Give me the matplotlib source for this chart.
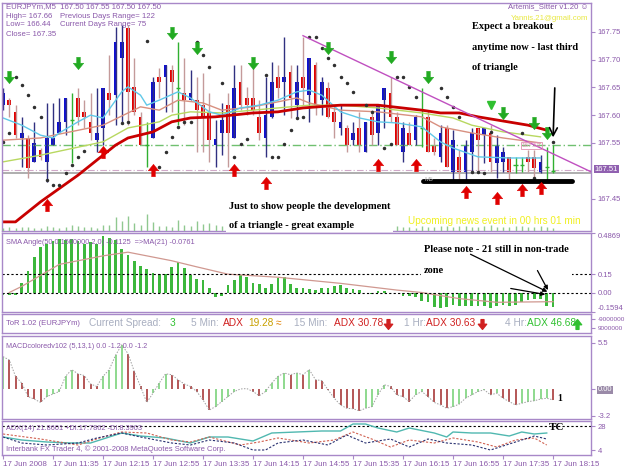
import numpy as np
import matplotlib
matplotlib.use('Agg')
import matplotlib.pyplot as plt
from matplotlib.path import Path
import matplotlib.transforms as mtransforms

plt.rcParams['font.family'] = ['Liberation Sans', 'DejaVu Sans']

# ---------------- data (EURJPYm, M5) ----------------
time_labels = ['17 Jun 2008', '17 Jun 11:35', '17 Jun 12:15', '17 Jun 12:55', '17 Jun 13:35',
               '17 Jun 14:15', '17 Jun 14:55', '17 Jun 15:35', '17 Jun 16:15', '17 Jun 16:55',
               '17 Jun 17:35', '17 Jun 18:15']

opens = [167.618, 167.627, 167.606, 167.559, 167.559, 167.516, 167.537, 167.516, 167.546, 167.568,
         167.588, 167.591, 167.631, 167.606, 167.588, 167.555, 167.577, 167.640, 167.636, 167.703,
         167.757, 167.651, 167.597, 167.546, 167.559, 167.669, 167.669, 167.681, 167.649, 167.640,
         167.627, 167.627, 167.618, 167.606, 167.546, 167.568, 167.618, 167.559, 167.660, 167.631,
         167.631, 167.597, 167.559, 167.597, 167.669, 167.660, 167.678, 167.618, 167.669, 167.636,
         167.690, 167.627, 167.649, 167.606, 167.577, 167.577, 167.555, 167.577, 167.534, 167.597,
         167.568, 167.627, 167.640, 167.597, 167.534, 167.568, 167.555, 167.577, 167.597, 167.546,
         167.525, 167.577, 167.498, 167.525, 167.498, 167.534, 167.577, 167.564, 167.568, 167.514,
         167.516, 167.525, 167.510, 167.510, 167.525, 167.525, 167.496, 167.507, 167.500]
highs = [167.649, 167.631, 167.618, 167.597, 167.564, 167.588, 167.541, 167.622, 167.622, 167.631,
         167.631, 167.640, 167.649, 167.627, 167.640, 167.649, 167.649, 167.708, 167.759, 167.762,
         167.762, 167.703, 167.606, 167.588, 167.669, 167.685, 167.690, 167.690, 167.732, 167.703,
         167.681, 167.669, 167.676, 167.640, 167.591, 167.622, 167.640, 167.690, 167.690, 167.651,
         167.690, 167.627, 167.669, 167.696, 167.690, 167.741, 167.690, 167.690, 167.741, 167.703,
         167.696, 167.669, 167.660, 167.618, 167.618, 167.582, 167.588, 167.606, 167.588, 167.609,
         167.618, 167.649, 167.669, 167.606, 167.588, 167.588, 167.600, 167.649, 167.609, 167.559,
         167.582, 167.582, 167.573, 167.537, 167.555, 167.577, 167.577, 167.577, 167.582, 167.564,
         167.543, 167.525, 167.525, 167.525, 167.537, 167.537, 167.528, 167.543, 167.546]
lows = [167.609, 167.597, 167.559, 167.507, 167.487, 167.516, 167.519, 167.480, 167.546, 167.568,
        167.564, 167.514, 167.582, 167.577, 167.555, 167.534, 167.546, 167.600, 167.582, 167.588,
        167.582, 167.600, 167.546, 167.507, 167.559, 167.631, 167.606, 167.606, 167.582, 167.582,
        167.627, 167.534, 167.534, 167.516, 167.507, 167.528, 167.507, 167.559, 167.609, 167.600,
        167.600, 167.555, 167.525, 167.595, 167.631, 167.600, 167.595, 167.595, 167.618, 167.588,
        167.600, 167.600, 167.595, 167.559, 167.564, 167.534, 167.546, 167.534, 167.534, 167.546,
        167.546, 167.577, 167.588, 167.546, 167.516, 167.546, 167.546, 167.543, 167.534, 167.528,
        167.516, 167.507, 167.483, 167.483, 167.483, 167.496, 167.498, 167.514, 167.498, 167.487,
        167.498, 167.483, 167.496, 167.498, 167.498, 167.487, 167.496, 167.483, 167.496]
closes = [167.640, 167.618, 167.564, 167.568, 167.505, 167.550, 167.525, 167.559, 167.559, 167.588,
          167.631, 167.591, 167.597, 167.597, 167.568, 167.568, 167.649, 167.627, 167.732, 167.732,
          167.642, 167.606, 167.546, 167.546, 167.660, 167.660, 167.690, 167.660, 167.649, 167.627,
          167.640, 167.609, 167.597, 167.555, 167.557, 167.591, 167.568, 167.649, 167.618, 167.618,
          167.609, 167.568, 167.600, 167.660, 167.649, 167.669, 167.631, 167.660, 167.649, 167.703,
          167.618, 167.660, 167.597, 167.588, 167.588, 167.546, 167.568, 167.546, 167.588, 167.564,
          167.618, 167.649, 167.597, 167.546, 167.577, 167.546, 167.597, 167.577, 167.534, 167.534,
          167.568, 167.507, 167.555, 167.498, 167.546, 167.568, 167.555, 167.577, 167.516, 167.546,
          167.534, 167.496, 167.510, 167.510, 167.516, 167.505, 167.516, 167.507, 167.500]
volumes = [30, 40, 30, 35, 40, 30, 25, 45, 35, 30, 40, 60, 45, 35, 40, 30, 55, 60, 140, 100,
           150, 80, 60, 170, 90, 50, 45, 40, 110, 60, 50, 100, 70, 80, 60, 50, 90, 70, 60, 50,
           45, 80, 50, 40, 35, 30, 45, 40, 50, 60, 40, 35, 50, 45, 40, 55, 35, 40, 50, 45,
           40, 35, 45, 50, 40, 35, 30, 45, 40, 35, 50, 45, 40, 50, 45, 40, 35, 45, 55, 40,
           35, 40, 45, 50, 40, 35, 45, 40, 30]

# moving averages (bar index, price)
ma_slow_idx = [0, 2, 6, 12, 16, 18, 20, 24, 27, 30, 34, 40, 44, 48, 54, 60, 67, 70, 73, 76, 84, 87]
ma_slow = [167.408, 167.408, 167.444, 167.492, 167.528, 167.546, 167.559, 167.570, 167.588, 167.595,
           167.597, 167.604, 167.606, 167.613, 167.618, 167.618, 167.609, 167.604, 167.604, 167.597,
           167.582, 167.573]
ma_fast_idx = [0, 3, 6, 8, 9, 12, 14, 16, 19, 20, 22, 23, 25, 28, 30, 33, 35, 38, 41, 44, 47, 49,
               51, 54, 57, 60, 63, 67, 70, 72, 76, 81, 86]
ma_fast = [167.595, 167.582, 167.564, 167.559, 167.568, 167.588, 167.600, 167.595, 167.642, 167.651,
           167.636, 167.618, 167.627, 167.642, 167.631, 167.606, 167.600, 167.613, 167.618, 167.627,
           167.642, 167.645, 167.636, 167.606, 167.595, 167.588, 167.586, 167.579, 167.552, 167.541,
           167.525, 167.523, 167.523]
ma_mid_idx = [0, 6, 16, 22, 25, 28, 32, 35, 40, 44, 47, 49, 54, 60, 67, 70, 75, 80, 86]
ma_mid = [167.555, 167.559, 167.582, 167.615, 167.609, 167.627, 167.622, 167.609, 167.615, 167.624,
          167.631, 167.622, 167.609, 167.606, 167.597, 167.579, 167.568, 167.559, 167.550]
ma_long_idx = [0, 6, 16, 20, 25, 27, 30, 35, 40, 46, 49, 54, 60, 67, 72, 75, 80, 86]
ma_long = [167.516, 167.528, 167.552, 167.577, 167.588, 167.600, 167.606, 167.604, 167.609, 167.615,
           167.618, 167.618, 167.613, 167.604, 167.595, 167.582, 167.570, 167.561]

# parabolic SAR dots
sar_idx = [0, 1, 2, 3, 4, 5, 6, 7, 8, 9, 10, 11, 12, 13, 19, 20, 23, 25, 26, 27, 28, 29, 30, 31,
           32, 33, 35, 37, 38, 39, 42, 43, 44, 45, 46, 47, 48, 49, 50, 51, 52, 53, 54, 55, 56, 58,
           59, 61, 62, 63, 64, 65, 66, 70, 71, 72, 73, 75, 76, 77, 78, 83, 85, 88]
sar_val = [167.552, 167.568, 167.669, 167.654, 167.636, 167.615, 167.597, 167.483, 167.474, 167.474,
           167.496, 167.510, 167.525, 167.536, 167.586, 167.588, 167.733, 167.507, 167.534, 167.561,
           167.579, 167.588, 167.588, 167.732, 167.708, 167.687, 167.658, 167.525, 167.548, 167.557,
           167.672, 167.525, 167.525, 167.548, 167.573, 167.595, 167.597, 167.741, 167.741, 167.721,
           167.703, 167.690, 167.669, 167.658, 167.642, 167.618, 167.606, 167.541, 167.548, 167.669,
           167.669, 167.651, 167.633, 167.649, 167.633, 167.615, 167.597, 167.498, 167.498, 167.496,
           167.570, 167.568, 167.487, 167.552]

# signal arrows
sell_idx = [1, 12, 27, 31, 40, 52, 62, 68, 80, 85, 87]
sell_px = [167.669, 167.694, 167.748, 167.721, 167.694, 167.721, 167.705, 167.669, 167.604, 167.586, 167.568]
buy_idx = [7, 16, 24, 37, 42, 60, 66, 74, 79, 83, 86]
buy_px = [167.438, 167.534, 167.501, 167.501, 167.478, 167.510, 167.510, 167.462, 167.451, 167.465, 167.469]
tri_idx, tri_px = [78], [167.618]

# hand-drawn objects
trend_x, trend_y = [48, 94.1], [167.743, 167.498]
support_x, support_y = [67.2, 91.0], [167.482, 167.482]
bid_price, ask_price, green_level = 167.496, 167.501, 167.547

# SMA angle panel
sma_angle = [-0.02, -0.02, -0.02, 0.08, 0.18, 0.29, 0.37, 0.40, 0.42, 0.44,
             0.43, 0.44, 0.42, 0.40, 0.41, 0.40, 0.46, 0.45, 0.43, 0.36,
             0.31, 0.26, 0.22, 0.19, 0.16, 0.15, 0.15, 0.21, 0.25, 0.20,
             0.14, 0.11, 0.10, 0.04, -0.04, -0.03, 0.06, 0.10, 0.14, 0.13,
             0.08, 0.07, 0.04, 0.07, 0.12, 0.13, 0.07, 0.04, 0.04, 0.03,
             0.02, 0.04, 0.04, 0.05, 0.06, 0.04, 0.03, 0.02, 0.00, -0.01,
             0.01, 0.01, 0.00, 0.00, -0.03, -0.03, -0.04, -0.07, -0.08, -0.12,
             -0.13, -0.12, -0.10, -0.11, -0.11, -0.11, -0.11, -0.11, -0.125, -0.11,
             -0.10, -0.11, -0.10, -0.08, -0.06, -0.05, -0.05, -0.11, -0.12]
sma_ma_idx = [1, 3, 9, 16, 20, 27, 31, 36, 44, 54, 63, 67, 73, 79, 88]
sma_ma = [0.0, 0.05, 0.23, 0.30, 0.33, 0.26, 0.21, 0.15, 0.125, 0.075, 0.02, 0.0, -0.05, -0.08, -0.075]

# MACD histogram
macd = [3.85, 3.45, 1.5, 0.7, -0.9, -1.2, -1.6, -0.9, -0.6, -0.3,
        1.5, 2.3, 1.8, 1.6, 0.6, 0.3, 1.5, 2.3, 4.0, 5.25,
        4.2, 2.1, 0.3, -1.6, -0.5, 0.7, 1.8, 1.7, 1.1, 0.6,
        0.3, -0.3, -1.3, -2.5, -2.1, -1.5, -0.9, -0.3, 0.0, 0.05,
        -0.3, -0.8, -0.3, 0.7, 1.5, 1.9, 1.7, 1.9, 1.7, 2.3,
        1.1, 1.0, -0.1, -1.1, -1.9, -2.3, -2.35, -2.6, -2.3, -2.1,
        -0.7, 0.5, 0.3, -0.7, -0.9, -1.5, -0.7, -0.3, -0.9, -1.6,
        -1.9, -2.3, -2.1, -1.8, -1.1, -0.7, -0.3, -0.1, -0.7, -0.5,
        -1.1, -1.5, -1.9, -1.7, -1.5, -1.4, -1.2, -1.1, -1.3]

# ADX panel
adx_idx = [0, 3, 7, 11, 14, 17, 19, 22, 26, 30, 33, 36, 40, 43, 47, 51, 54, 56, 58, 60,
           63, 65, 69, 71, 72, 75, 78, 81, 83, 85, 87]
adx_vals = [17, 14, 12, 11, 11, 17, 21, 18, 16, 11, 17, 17, 13, 21, 22, 23, 23, 30, 30, 26,
            22, 26, 21, 17, 22, 21, 21, 18, 22, 20, 21]
red_di_idx = [0, 6, 12, 16, 19, 23, 27, 30, 33, 38, 41, 44, 49, 53, 56, 59, 62, 65, 69, 72,
              76, 79, 82, 85, 87]
red_di = [20, 15, 9, 17, 22, 21, 14, 12, 17, 9, 12, 16, 11, 14, 22, 15, 7, 14, 11, 16,
          12, 7, 14, 16, 9]
navy_di_idx = [0, 3, 7, 12, 15, 19, 22, 27, 30, 33, 37, 40, 42, 44, 48, 52, 55, 58, 62, 65,
               68, 71, 75, 78, 82, 85, 87]
navy_di = [17, 11, 9, 11, 16, 21, 17, 11, 9, 14, 11, 4, 4, 11, 14, 9, 19, 11, 15, 7,
           15, 11, 9, 4, 12, 18, 15]

# ---------------- layout helpers (pixel geometry of the screenshot) ----------------
W, H = 625, 469
FRAME = '#a888c8'
PURPLE = '#8a58aa'
XLIM = (-0.16, 94.08)


def box(top, bottom):
    return [2 / W, 1 - bottom / H, 589 / W, (bottom - top) / H]


def fx(x):
    return x / W


def fy(y):
    return 1 - y / H


def style(ax):
    ax.set_xlim(*XLIM)
    ax.set_xticks([])
    ax.yaxis.tick_right()
    ax.tick_params(axis='y', colors=FRAME, labelcolor=PURPLE, labelsize=5.5,
                   length=3, width=0.8, pad=2)
    for s in ax.spines.values():
        s.set_color(FRAME)
        s.set_linewidth(1)


def arrow_marker(up):
    verts = [(-0.3, 1), (0.3, 1), (0.3, 0.05), (0.85, 0.05), (0, -1),
             (-0.85, 0.05), (-0.3, 0.05), (-0.3, 1)]
    if up:
        verts = [(a, -b) for a, b in verts]
    codes = [Path.MOVETO] + [Path.LINETO] * 6 + [Path.CLOSEPOLY]
    return Path(verts, codes)


fig = plt.figure(figsize=(W / 100, H / 100), dpi=100)
fig.patch.set_facecolor('white')

n = len(opens)
x = np.arange(n)
o, h, l, c = map(np.array, (opens, highs, lows, closes))
up = c > o
dn = c < o
dj = c == o

# ---------------- main price panel ----------------
ax = fig.add_axes(box(3, 231))
style(ax)
ax.set_ylim(167.3916, 167.8018)
ticks = [167.45, 167.55, 167.60, 167.65, 167.70, 167.75]
ax.set_yticks(ticks, [f'{t:.2f}' for t in ticks])

ax.axhline(green_level, color='#70c070', lw=1, ls=(0, (6, 2, 1, 2)))
ax.axhline(ask_price, color='#d0a8c8', lw=0.8, ls=(0, (6, 2, 1, 2)))
ax.axhline(bid_price, color='#a8a8a8', lw=1.3)

ax.vlines(x[up], l[up], h[up], color='#303080', lw=1)
ax.vlines(x[dn], l[dn], h[dn], color='#c49a9a', lw=1)
ax.vlines(x[dj], l[dj], h[dj], color='#30b030', lw=1)
ax.bar(x[up], (c - o)[up], bottom=o[up], width=0.62, color='#1010d0', lw=0)
ax.bar(x[dn], (o - c)[dn], bottom=c[dn], width=0.62, color='#e00000', lw=0)
ax.hlines(o[dj], x[dj] - 0.35, x[dj] + 0.35, color='#30b030', lw=1)

ax.plot(ma_long_idx, ma_long, color='#b8d860', lw=1)
ax.plot(ma_mid_idx, ma_mid, color='#d89080', lw=1)
ax.plot(ma_fast_idx, ma_fast, color='#60c8e8', lw=1)
ax.plot(ma_slow_idx, ma_slow, color='#c80000', lw=2)

ax.plot(sar_idx, sar_val, ls='', marker='o', ms=1.5, color='#303030')
ax.plot(trend_x, trend_y, color='#c050c0', lw=1)
ax.plot(support_x, support_y, color='black', lw=3.5, solid_capstyle='round')

ax.plot(sell_idx, sell_px, ls='', marker=arrow_marker(False), ms=9, color='#22aa22', mew=0.3)
ax.plot(buy_idx, buy_px, ls='', marker=arrow_marker(True), ms=9, color='#e00000', mew=0.3)
ax.plot(tri_idx, tri_px, ls='', marker='v', ms=6, color='#30c030')

ax.annotate('', xy=(88.0, 167.555), xytext=(88.3, 167.654),
            arrowprops=dict(arrowstyle='->', color='black', lw=1.2, mutation_scale=14))

ax.text(83.0, 167.545, '167.53', fontsize=4.5, color='#e090b0', va='center',
        bbox=dict(boxstyle='square,pad=0.15', fc='none', ec='#e090b0', lw=0.6))
ax.text(67.5, 167.485, 'M5', fontsize=4.5, color='#c0c0c0', va='center')

tr = mtransforms.blended_transform_factory(ax.transAxes, ax.transData)
ax.text(1.006, 167.503, '167.51', transform=tr, fontsize=5.5, color='white', va='center',
        bbox=dict(boxstyle='square,pad=0.1', fc='#9060b0', ec='none'))

ax.text(fx(472), fy(47), 'Expect a breakout\n\nanytime now - last third\n\nof triangle',
        transform=fig.transFigure, family='Liberation Serif', weight='bold', fontsize=7.5,
        va='center', ha='left', linespacing=1.2)

# volume strip on the bottom of the main panel
axv = fig.add_axes(box(201, 231), sharex=ax)
axv.set_facecolor('none')
axv.axis('off')
axv.set_ylim(0, 300)
axv.vlines(x, 0, volumes, color='#90c890', lw=1)
axv.text(fx(229), fy(216), 'Just to show people the development\n\nof a triangle - great example',
         transform=fig.transFigure, family='Liberation Serif', weight='bold', fontsize=7.5,
         va='center', ha='left', linespacing=1.05,
         bbox=dict(boxstyle='square,pad=0.25', fc='white', ec='none'))
axv.text(fx(408), fy(221), 'Upcoming news event in 00 hrs 01 min', transform=fig.transFigure,
         fontsize=7.2, color='#f0f020', va='center', ha='left')

# header texts
hdr = dict(fontsize=5.6, color=PURPLE, va='center', ha='left')
fig.text(fx(6), fy(7), 'EURJPYm,M5  167.50 167.55 167.50 167.50', **hdr)
fig.text(fx(6), fy(16), 'High= 167.66', **hdr)
fig.text(fx(60), fy(16), 'Previous Days Range= 122', **hdr)
fig.text(fx(6), fy(25), 'Low= 166.44', **hdr)
fig.text(fx(60), fy(25), 'Current Days Range= 75', **hdr)
fig.text(fx(6), fy(34), 'Close= 167.35', **hdr)
fig.text(fx(588), fy(7), 'Artemis_Sitter v1.20 \u263a', fontsize=5.6, color=PURPLE, va='center', ha='right')
fig.text(fx(588), fy(18), 'Yannis.21@gmail.com', fontsize=5.6, color='#e8e840', va='center', ha='right')

# ---------------- SMA angle panel ----------------
axs = fig.add_axes(box(233, 312))
style(axs)
axs.set_ylim(-0.1594, 0.4869)
axs.set_yticks([-0.1594, 0.0, 0.15, 0.4869], ['-0.1594', '0.00', '0.15', '0.4869'])
for tk in axs.yaxis.get_major_ticks():
    if tk.get_loc() > 0.4:
        tk.label2.set_va('top')
    elif tk.get_loc() < -0.1:
        tk.label2.set_va('bottom')
axs.bar(x, sma_angle, width=0.45, color='#3cb83c', lw=0)
axs.plot(sma_ma_idx, sma_ma, color='#d09890', lw=0.9)
axs.axhline(0.15, color='black', lw=0.8, ls=(0, (2, 2)))
axs.axhline(0.0, color='black', lw=0.8, ls=(0, (2, 2)))
axs.text(fx(6), fy(242), 'SMA Angle(50,0.1500000,2,0) -0.1125  =>MA(21) -0.0761',
         transform=fig.transFigure, fontsize=5.3, color=PURPLE, va='center')
axs.text(fx(424), fy(260), 'Please note - 21 still in non-trade\n\nzone', transform=fig.transFigure,
         family='Liberation Serif', weight='bold', fontsize=7.5, va='center', ha='left',
         linespacing=1.15, bbox=dict(boxstyle='square,pad=0.3', fc='white', ec='none'), zorder=4)
for (x0, y0), (x1, y1) in [((74.4, 0.323), (87.5, -0.004)),
                           ((85.3, 0.20), (87.4, 0.0)),
                           ((80.8, 0.037), (87.2, -0.02))]:
    axs.annotate('', xy=(x1, y1), xytext=(x0, y0), zorder=6,
                 arrowprops=dict(arrowstyle='-|>', color='black', lw=0.9, mutation_scale=6))

# ---------------- ToR panel ----------------
axt = fig.add_axes(box(314, 333))
style(axt)
axt.set_ylim(0, 1)
axt.set_yticks([0.72, 0.28], ['-9000000', '9000000'])
axt.tick_params(axis='y', labelsize=4.6, pad=1.5)
tor_y = fy(323)
tor_items = [(6, 'ToR 1.02 (EURJPYm)', PURPLE, 5.5), (89, 'Current Spread:', '#a8aec0', 7.3),
             (170, '3', '#30c030', 7.3), (191, '5 Min:', '#a8aec0', 7.3),
             (223, 'ADX', '#d02020', 7.3), (248, '19.28', '#c8a000', 7.3),
             (276, '\u2248', '#e08000', 7.3), (294, '15 Min:', '#a8aec0', 7.3),
             (334, 'ADX 30.78', '#d02020', 7.3), (404, '1 Hr:', '#a8aec0', 7.3),
             (426, 'ADX 30.63', '#d02020', 7.3), (505, '4 Hr:', '#a8aec0', 7.3),
             (527, 'ADX 46.68', '#30c030', 7.3)]
for px_, txt, col, fs in tor_items:
    axt.text(fx(px_), tor_y, txt, transform=fig.transFigure, color=col, fontsize=fs, va='center')
for px_, col, is_up in [(388, '#d02020', False), (482, '#d02020', False), (577, '#30c030', True)]:
    axt.plot([(px_ - 2) / 589], [0.5], transform=axt.transAxes, ls='',
             marker=arrow_marker(is_up), ms=7, color=col)

# ---------------- MACD panel ----------------
axm = fig.add_axes(box(336, 419))
style(axm)
axm.set_ylim(-3.57, 6.3)
axm.set_yticks([5.5, 0.0, -3.2], ['5.5', '0.00', '-3.2'])
for tk in axm.yaxis.get_major_ticks():
    if tk.get_loc() == 0.0:
        tk.label2.set_bbox(dict(boxstyle='square,pad=0.1', fc='#9a8aa8', ec='none'))
        tk.label2.set_color('white')
mv = np.array(macd)
rising = np.diff(mv, prepend=mv[0] - 1) >= 0
axm.vlines(x[rising], 0, mv[rising], color='#70d070', lw=1.1)
axm.vlines(x[~rising], 0, mv[~rising], color='#a02828', lw=1.1)
axm.plot(x, mv, color='#a0a0a0', lw=0.7, ls=(0, (1.5, 1.5)))
axm.text(fx(6), fy(346), 'MACDcoloredv102 (5,13,1) 0.0 -1.2 0.0 -1.2', transform=fig.transFigure,
         fontsize=5.2, color=PURPLE, va='center')
axm.text(88.6, -1.15, '1', family='Liberation Serif', weight='bold', fontsize=7, va='center')

# ---------------- ADX panel ----------------
axa = fig.add_axes(box(421, 455))
style(axa)
axa.set_ylim(-1, 33)
axa.set_yticks([28, 4], ['28', '4'])
axa.axhline(28, color='black', lw=0.8, ls=(0, (2, 2)))
axa.plot(adx_idx, adx_vals, color='#50b8b0', lw=1)
axa.plot(red_di_idx, red_di, color='#d06050', lw=0.8, ls=(0, (2, 1.5)))
axa.plot(navy_di_idx, navy_di, color='#283070', lw=0.8, ls=(0, (2, 1.5)))
axa.text(fx(6), fy(428), 'ADX(14) 21.8601 +DI:17.7862 -DI:8.3903', transform=fig.transFigure,
         fontsize=5.3, color=PURPLE, va='center')
axa.text(fx(6), fy(449), 'Interbank FX Trader 4, \u00a9 2001-2008 MetaQuotes Software Corp.',
         transform=fig.transFigure, fontsize=5.5, color=PURPLE, va='center')
axa.text(87.3, 26.5, 'TC', family='Liberation Serif', weight='bold', fontsize=8, va='center')

axa.set_xticks(np.arange(0, n, 8), time_labels)
axa.tick_params(axis='x', colors=FRAME, labelcolor=PURPLE, labelsize=5.8, length=3, pad=1)
for lab in axa.get_xticklabels():
    lab.set_ha('left')

fig.savefig('out.png', dpi=100)
